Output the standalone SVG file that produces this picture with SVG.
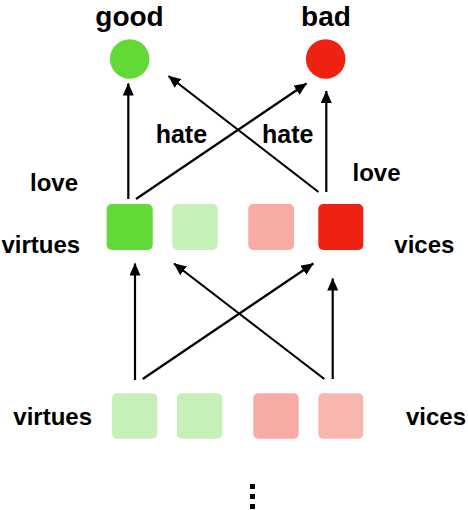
<svg xmlns="http://www.w3.org/2000/svg" width="468" height="510" viewBox="0 0 468 510">
<style>
text{font-family:"Liberation Sans",Arial,sans-serif;font-weight:bold;fill:#000}
.big{font-size:28px}
.lbl{font-size:24px}
.hate{font-size:25px}
.edge{stroke:#000;stroke-width:2.2;fill:none;marker-end:url(#ah)}
</style>
<defs>
<marker id="ah" markerUnits="userSpaceOnUse" markerWidth="13" markerHeight="11" refX="12" refY="5.5" orient="auto">
<path d="M0,0 L12.5,5.5 L0,11 z" fill="#000"/>
</marker>
</defs>
<rect width="468" height="510" fill="#fff"/>
<g id="good">
<circle cx="129.7" cy="59" r="19.8" fill="#62d936"/>
<text class="big" x="129.5" y="25.5" text-anchor="middle">good</text>
</g>
<g id="bad">
<circle cx="325.7" cy="59" r="19.8" fill="#ef2211"/>
<text class="big" x="326" y="25.5" text-anchor="middle">bad</text>
</g>
<g id="edges">
<line class="edge" x1="128.3" y1="199" x2="128.3" y2="83.5"/>
<line class="edge" x1="326.3" y1="192" x2="326.3" y2="91"/>
<line class="edge" x1="136" y1="199" x2="306.5" y2="83.5"/>
<line class="edge" x1="318.5" y1="192" x2="168.5" y2="76"/>
<line class="edge" x1="135" y1="380" x2="135" y2="263.5"/>
<line class="edge" x1="332.7" y1="379" x2="332.7" y2="278.5"/>
<line class="edge" x1="142.7" y1="379" x2="313.3" y2="263.5"/>
<line class="edge" x1="324.3" y1="379" x2="174" y2="263.5"/>
</g>
<g id="labels">
<text class="hate" x="155.7" y="143">hate</text>
<text class="hate" x="262" y="143">hate</text>
<text class="lbl" x="30" y="190.5">love</text>
<text class="lbl" x="352.5" y="180.5">love</text>
</g>
<g id="mid-virtues">
<rect x="106.7" y="204" width="46" height="46" rx="5" fill="#62d936"/>
<rect x="172.3" y="204" width="45.4" height="46" rx="5" fill="#c6f0b8"/>
<text class="lbl" x="1.5" y="253.3">virtues</text>
</g>
<g id="mid-vices">
<rect x="248.3" y="204" width="45.7" height="46" rx="5" fill="#f8aaa4"/>
<rect x="318.3" y="204" width="45" height="46" rx="5" fill="#ef2211"/>
<text class="lbl" x="394.3" y="253.3">vices</text>
</g>
<g id="bottom-virtues">
<rect x="112" y="393.3" width="45.3" height="45.4" rx="5" fill="#c6f0b8"/>
<rect x="177" y="393.3" width="45.3" height="45.4" rx="5" fill="#c6f0b8"/>
<text class="lbl" x="13.3" y="425">virtues</text>
</g>
<g id="bottom-vices">
<rect x="253.3" y="393.3" width="45.4" height="45.4" rx="5" fill="#f8aaa4"/>
<rect x="318.3" y="393.3" width="45" height="45.4" rx="5" fill="#f9b6ae"/>
<text class="lbl" x="406" y="425">vices</text>
</g>
<g id="ellipsis" fill="#000">
<rect x="250" y="484" width="5" height="5"/>
<rect x="250" y="494" width="5" height="5"/>
<rect x="250" y="504" width="5" height="5"/>
</g>
</svg>
